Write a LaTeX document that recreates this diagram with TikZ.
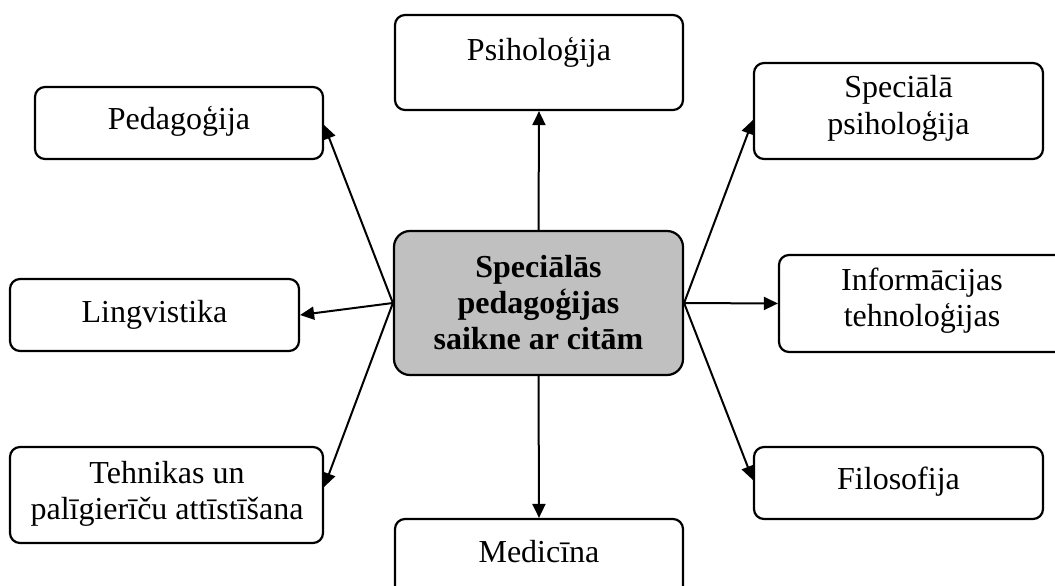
\documentclass[tikz,border=0pt]{standalone}
\usepackage{fontspec}
\setmainfont{Liberation Serif}
\usetikzlibrary{arrows.meta,calc}
\definecolor{cgray}{RGB}{192,192,192}
\newcommand{\lines}[1]{\begin{tabular}[t]{@{}c@{}}#1\end{tabular}}
\tikzset{
  box/.style={draw, line width=2.2pt, rounded corners=10pt, inner sep=0pt, fill=white},
  mainbox/.style={draw, line width=2.2pt, rounded corners=16pt, inner sep=0pt, fill=cgray},
  txt/.style={anchor=base, inner sep=0pt, font=\fontsize{32}{36}\selectfont},
  btxt/.style={txt, font=\fontsize{32}{36}\selectfont\bfseries},
  arr/.style={line width=2pt, -{Triangle[length=14pt,width=13pt]}}
}
\begin{document}
\begin{tikzpicture}[x=1pt,y=-1pt]
\useasboundingbox (0,0) rectangle (1055,586);
% boxes
\node[mainbox, minimum width=289pt, minimum height=144pt] (c) at (538.5,303) {};
\node[box, minimum width=288pt, minimum height=95pt] (psi) at (539,62.5) {};
\node[box, minimum width=288pt, minimum height=72pt] (ped) at (179,123) {};
\node[box, minimum width=289pt, minimum height=96pt] (spec) at (898.5,111) {};
\node[box, minimum width=286pt, minimum height=97pt] (info) at (922,303.5) {};
\node[box, minimum width=289pt, minimum height=72pt] (ling) at (154.5,315) {};
\node[box, minimum width=313pt, minimum height=96pt] (teh) at (166.5,495) {};
\node[box, minimum width=288pt, minimum height=81pt] (med) at (539,559.5) {};
\node[box, minimum width=289pt, minimum height=72pt] (fil) at (898.5,483) {};
% texts
\node[btxt] (ct) at (538.5,277) {\lines{Speciālās\\pedagoģijas\\saikne ar citām}};
\node[txt] (psit) at (539,61) {Psiholoģija};
\node[txt] (pedt) at (179,129) {Pedagoģija};
\node[txt] (spect) at (898.5,98) {\lines{Speciālā\\psiholoģija}};
\node[txt] (infot) at (922,290) {\lines{Informācijas\\tehnoloģijas}};
\node[txt] (lingt) at (154.5,322) {Lingvistika};
\node[txt] (teht) at (167,483) {\lines{Tehnikas un\\palīgierīču attīstīšana}};
\node[txt] (medt) at (539,562) {Medicīna};
\node[txt] (filt) at (898.5,489) {Filosofija};
% arrows
\draw[arr] (c.north) -- (psi.south);
\draw[arr] (c.south) -- (med.north);
\draw[arr] (c.west) -- ($(ped.east)+(0,2)$);
\draw[arr] (c.west) -- (ling.east);
\draw[arr] (c.west) -- ($(teh.east)+(0,-8)$);
\draw[arr] (c.east) -- ($(spec.west)+(0,9)$);
\draw[arr] (c.east) -- (info.west);
\draw[arr] (c.east) -- ($(fil.west)+(0,-3)$);
\end{tikzpicture}
\end{document}
